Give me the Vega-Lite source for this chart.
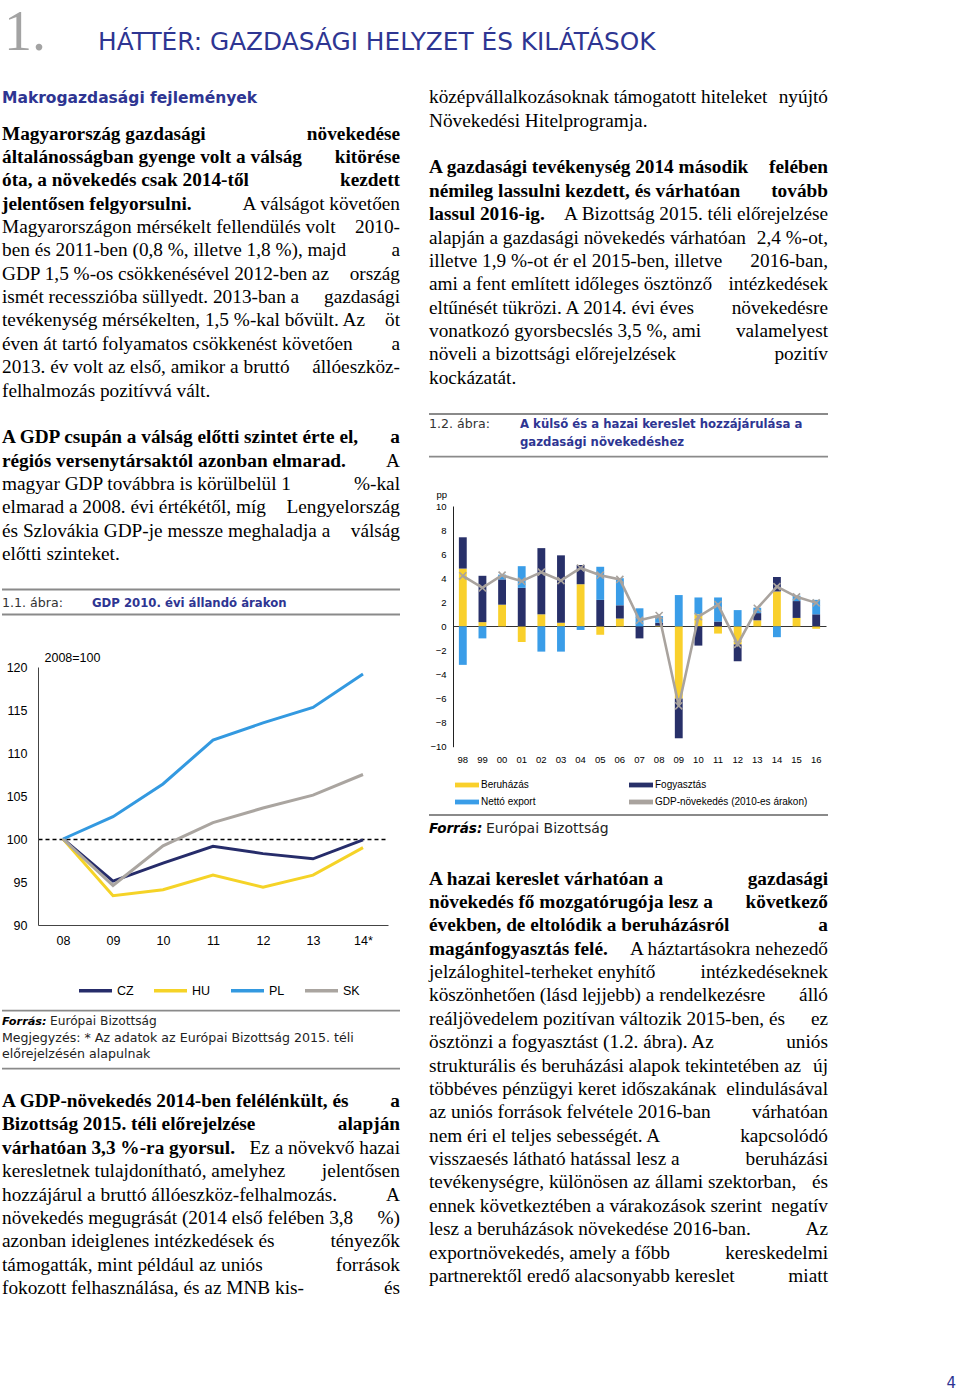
{
"$schema":"https://vega.github.io/schema/vega-lite/v6.json",
"width":960,"height":1393,"autosize":{"type":"none"},"padding":0,"background":"white",
"config":{"view":{"stroke":null},"legend":{"labelLimit":0}},
"datasets":{
"txt":[
{"c":"H","n":1,"k":"num","t":"1."},
{"c":"H","n":1,"k":"title","t":"HÁTTÉR: GAZDASÁGI HELYZET ÉS KILÁTÁSOK"},
{"c":"H","n":2,"k":"page","t":"4"},
{"c":"L","n":1,"k":"head","t":"Makrogazdasági fejlemények"},
{"c":"L","n":2,"k":"lead","t":"Magyarország gazdasági"},{"c":"L","n":2,"k":"leadR","t":"növekedése"},
{"c":"L","n":3,"k":"lead","t":"általánosságban gyenge volt a válság"},{"c":"L","n":3,"k":"leadR","t":"kitörése"},
{"c":"L","n":4,"k":"lead","t":"óta, a növekedés csak 2014-től"},{"c":"L","n":4,"k":"leadR","t":"kezdett"},
{"c":"L","n":5,"k":"lead","t":"jelentősen felgyorsulni."},{"c":"L","n":5,"k":"bodyR","t":"A válságot követően"},
{"c":"L","n":6,"k":"body","t":"Magyarországon mérsékelt fellendülés volt"},{"c":"L","n":6,"k":"bodyR","t":"2010-"},
{"c":"L","n":7,"k":"body","t":"ben és 2011-ben (0,8 %, illetve 1,8 %), majd"},{"c":"L","n":7,"k":"bodyR","t":"a"},
{"c":"L","n":8,"k":"body","t":"GDP 1,5 %-os csökkenésével 2012-ben az"},{"c":"L","n":8,"k":"bodyR","t":"ország"},
{"c":"L","n":9,"k":"body","t":"ismét recesszióba süllyedt. 2013-ban a"},{"c":"L","n":9,"k":"bodyR","t":"gazdasági"},
{"c":"L","n":10,"k":"body","t":"tevékenység mérsékelten, 1,5 %-kal bővült. Az"},{"c":"L","n":10,"k":"bodyR","t":"öt"},
{"c":"L","n":11,"k":"body","t":"éven át tartó folyamatos csökkenést követően"},{"c":"L","n":11,"k":"bodyR","t":"a"},
{"c":"L","n":12,"k":"body","t":"2013. év volt az első, amikor a bruttó"},{"c":"L","n":12,"k":"bodyR","t":"állóeszköz-"},
{"c":"L","n":13,"k":"body","t":"felhalmozás pozitívvá vált."},
{"c":"L","n":15,"k":"lead","t":"A GDP csupán a válság előtti szintet érte el,"},{"c":"L","n":15,"k":"leadR","t":"a"},
{"c":"L","n":16,"k":"lead","t":"régiós versenytársaktól azonban elmarad."},{"c":"L","n":16,"k":"bodyR","t":"A"},
{"c":"L","n":17,"k":"body","t":"magyar GDP továbbra is körülbelül 1"},{"c":"L","n":17,"k":"bodyR","t":"%-kal"},
{"c":"L","n":18,"k":"body","t":"elmarad a 2008. évi értékétől, míg"},{"c":"L","n":18,"k":"bodyR","t":"Lengyelország"},
{"c":"L","n":19,"k":"body","t":"és Szlovákia GDP-je messze meghaladja a"},{"c":"L","n":19,"k":"bodyR","t":"válság"},
{"c":"L","n":20,"k":"body","t":"előtti szinteket."},
{"c":"L","n":21,"k":"rule","t":""},
{"c":"L","n":22,"k":"cap","t":"1.1. ábra:"},{"c":"L","n":22,"k":"capt","t":"GDP 2010. évi állandó árakon"},
{"c":"L","n":23,"k":"rule","t":""},
{"c":"L","n":24,"k":"rule","t":""},
{"c":"L","n":25,"k":"src","t":"Forrás:"},{"c":"L","n":25,"k":"srct","t":"Európai Bizottság"},
{"c":"L","n":26,"k":"note","t":"Megjegyzés: * Az adatok az Európai Bizottság 2015. téli"},
{"c":"L","n":27,"k":"note","t":"előrejelzésén alapulnak"},
{"c":"L","n":28,"k":"rule","t":""},
{"c":"L","n":29,"k":"lead","t":"A GDP-növekedés 2014-ben felélénkült, és"},{"c":"L","n":29,"k":"leadR","t":"a"},
{"c":"L","n":30,"k":"lead","t":"Bizottság 2015. téli előrejelzése"},{"c":"L","n":30,"k":"leadR","t":"alapján"},
{"c":"L","n":31,"k":"lead","t":"várhatóan 3,3 %-ra gyorsul."},{"c":"L","n":31,"k":"bodyR","t":"Ez a növekvő hazai"},
{"c":"L","n":32,"k":"body","t":"keresletnek tulajdonítható, amelyhez"},{"c":"L","n":32,"k":"bodyR","t":"jelentősen"},
{"c":"L","n":33,"k":"body","t":"hozzájárul a bruttó állóeszköz-felhalmozás."},{"c":"L","n":33,"k":"bodyR","t":"A"},
{"c":"L","n":34,"k":"body","t":"növekedés megugrását (2014 első felében 3,8"},{"c":"L","n":34,"k":"bodyR","t":"%)"},
{"c":"L","n":35,"k":"body","t":"azonban ideiglenes intézkedések és"},{"c":"L","n":35,"k":"bodyR","t":"tényezők"},
{"c":"L","n":36,"k":"body","t":"támogatták, mint például az uniós"},{"c":"L","n":36,"k":"bodyR","t":"források"},
{"c":"L","n":37,"k":"body","t":"fokozott felhasználása, és az MNB kis-"},{"c":"L","n":37,"k":"bodyR","t":"és"},
{"c":"R","n":1,"k":"body","t":"középvállalkozásoknak támogatott hiteleket"},{"c":"R","n":1,"k":"bodyR","t":"nyújtó"},
{"c":"R","n":2,"k":"body","t":"Növekedési Hitelprogramja."},
{"c":"R","n":4,"k":"lead","t":"A gazdasági tevékenység 2014 második"},{"c":"R","n":4,"k":"leadR","t":"felében"},
{"c":"R","n":5,"k":"lead","t":"némileg lassulni kezdett, és várhatóan"},{"c":"R","n":5,"k":"leadR","t":"tovább"},
{"c":"R","n":6,"k":"lead","t":"lassul 2016-ig."},{"c":"R","n":6,"k":"bodyR","t":"A Bizottság 2015. téli előrejelzése"},
{"c":"R","n":7,"k":"body","t":"alapján a gazdasági növekedés várhatóan"},{"c":"R","n":7,"k":"bodyR","t":"2,4 %-ot,"},
{"c":"R","n":8,"k":"body","t":"illetve 1,9 %-ot ér el 2015-ben, illetve"},{"c":"R","n":8,"k":"bodyR","t":"2016-ban,"},
{"c":"R","n":9,"k":"body","t":"ami a fent említett időleges ösztönző"},{"c":"R","n":9,"k":"bodyR","t":"intézkedések"},
{"c":"R","n":10,"k":"body","t":"eltűnését tükrözi. A 2014. évi éves"},{"c":"R","n":10,"k":"bodyR","t":"növekedésre"},
{"c":"R","n":11,"k":"body","t":"vonatkozó gyorsbecslés 3,5 %, ami"},{"c":"R","n":11,"k":"bodyR","t":"valamelyest"},
{"c":"R","n":12,"k":"body","t":"növeli a bizottsági előrejelzések"},{"c":"R","n":12,"k":"bodyR","t":"pozitív"},
{"c":"R","n":13,"k":"body","t":"kockázatát."},
{"c":"R","n":14,"k":"rule","t":""},
{"c":"R","n":15,"k":"cap","t":"1.2. ábra:"},{"c":"R","n":15,"k":"capt","t":"A külső és a hazai kereslet hozzájárulása a"},
{"c":"R","n":16,"k":"capt","t":"gazdasági növekedéshez"},
{"c":"R","n":17,"k":"rule","t":""},
{"c":"R","n":18,"k":"rule","t":""},
{"c":"R","n":19,"k":"src","t":"Forrás:"},{"c":"R","n":19,"k":"srct","t":"Európai Bizottság"},
{"c":"R","n":20,"k":"lead","t":"A hazai kereslet várhatóan a"},{"c":"R","n":20,"k":"leadR","t":"gazdasági"},
{"c":"R","n":21,"k":"lead","t":"növekedés fő mozgatórugója lesz a"},{"c":"R","n":21,"k":"leadR","t":"következő"},
{"c":"R","n":22,"k":"lead","t":"években, de eltolódik a beruházásról"},{"c":"R","n":22,"k":"leadR","t":"a"},
{"c":"R","n":23,"k":"lead","t":"magánfogyasztás felé."},{"c":"R","n":23,"k":"bodyR","t":"A háztartásokra nehezedő"},
{"c":"R","n":24,"k":"body","t":"jelzáloghitel-terheket enyhítő"},{"c":"R","n":24,"k":"bodyR","t":"intézkedéseknek"},
{"c":"R","n":25,"k":"body","t":"köszönhetően (lásd lejjebb) a rendelkezésre"},{"c":"R","n":25,"k":"bodyR","t":"álló"},
{"c":"R","n":26,"k":"body","t":"reáljövedelem pozitívan változik 2015-ben, és"},{"c":"R","n":26,"k":"bodyR","t":"ez"},
{"c":"R","n":27,"k":"body","t":"ösztönzi a fogyasztást (1.2. ábra). Az"},{"c":"R","n":27,"k":"bodyR","t":"uniós"},
{"c":"R","n":28,"k":"body","t":"strukturális és beruházási alapok tekintetében az"},{"c":"R","n":28,"k":"bodyR","t":"új"},
{"c":"R","n":29,"k":"body","t":"többéves pénzügyi keret időszakának"},{"c":"R","n":29,"k":"bodyR","t":"elindulásával"},
{"c":"R","n":30,"k":"body","t":"az uniós források felvétele 2016-ban"},{"c":"R","n":30,"k":"bodyR","t":"várhatóan"},
{"c":"R","n":31,"k":"body","t":"nem éri el teljes sebességét. A"},{"c":"R","n":31,"k":"bodyR","t":"kapcsolódó"},
{"c":"R","n":32,"k":"body","t":"visszaesés látható hatással lesz a"},{"c":"R","n":32,"k":"bodyR","t":"beruházási"},
{"c":"R","n":33,"k":"body","t":"tevékenységre, különösen az állami szektorban,"},{"c":"R","n":33,"k":"bodyR","t":"és"},
{"c":"R","n":34,"k":"body","t":"ennek következtében a várakozások szerint"},{"c":"R","n":34,"k":"bodyR","t":"negatív"},
{"c":"R","n":35,"k":"body","t":"lesz a beruházások növekedése 2016-ban."},{"c":"R","n":35,"k":"bodyR","t":"Az"},
{"c":"R","n":36,"k":"body","t":"exportnövekedés, amely a főbb"},{"c":"R","n":36,"k":"bodyR","t":"kereskedelmi"},
{"c":"R","n":37,"k":"body","t":"partnerektől eredő alacsonyabb kereslet"},{"c":"R","n":37,"k":"bodyR","t":"miatt"}
],
"cmp":[
{"y":"08","c":"CZ","v":100},{"y":"09","c":"CZ","v":95.1},{"y":"10","c":"CZ","v":97.2},{"y":"11","c":"CZ","v":99.15},{"y":"12","c":"CZ","v":98.3},{"y":"13","c":"CZ","v":97.7},{"y":"14*","c":"CZ","v":99.9},
{"y":"08","c":"HU","v":100},{"y":"09","c":"HU","v":93.4},{"y":"10","c":"HU","v":94.1},{"y":"11","c":"HU","v":95.8},{"y":"12","c":"HU","v":94.4},{"y":"13","c":"HU","v":95.8},{"y":"14*","c":"HU","v":99.0},
{"y":"08","c":"PL","v":100},{"y":"09","c":"PL","v":102.6},{"y":"10","c":"PL","v":106.4},{"y":"11","c":"PL","v":111.5},{"y":"12","c":"PL","v":113.5},{"y":"13","c":"PL","v":115.3},{"y":"14*","c":"PL","v":119.2},
{"y":"08","c":"SK","v":100},{"y":"09","c":"SK","v":94.6},{"y":"10","c":"SK","v":99.2},{"y":"11","c":"SK","v":101.9},{"y":"12","c":"SK","v":103.6},{"y":"13","c":"SK","v":105.1},{"y":"14*","c":"SK","v":107.5}
],
"gdp":[
{"y":"98","s":"Beruházás","v":4.8},{"y":"98","s":"Fogyasztás","v":2.6},{"y":"98","s":"Nettó export","v":-3.2},{"y":"98","s":"GDP-növekedés (2010-es árakon)","v":4.2},
{"y":"99","s":"Beruházás","v":0.35},{"y":"99","s":"Fogyasztás","v":3.85},{"y":"99","s":"Nettó export","v":-1.0},{"y":"99","s":"GDP-növekedés (2010-es árakon)","v":3.2},
{"y":"00","s":"Beruházás","v":1.8},{"y":"00","s":"Fogyasztás","v":2.1},{"y":"00","s":"Nettó export","v":0.4},{"y":"00","s":"GDP-növekedés (2010-es árakon)","v":4.25},
{"y":"01","s":"Beruházás","v":-1.3},{"y":"01","s":"Fogyasztás","v":3.2},{"y":"01","s":"Nettó export","v":1.8},{"y":"01","s":"GDP-növekedés (2010-es árakon)","v":3.75},
{"y":"02","s":"Beruházás","v":1.0},{"y":"02","s":"Fogyasztás","v":5.5},{"y":"02","s":"Nettó export","v":-2.1},{"y":"02","s":"GDP-növekedés (2010-es árakon)","v":4.5},
{"y":"03","s":"Beruházás","v":0.3},{"y":"03","s":"Fogyasztás","v":5.6},{"y":"03","s":"Nettó export","v":-2.1},{"y":"03","s":"GDP-növekedés (2010-es árakon)","v":3.8},
{"y":"04","s":"Beruházás","v":3.5},{"y":"04","s":"Fogyasztás","v":1.6},{"y":"04","s":"Nettó export","v":-0.3},{"y":"04","s":"GDP-növekedés (2010-es árakon)","v":4.85},
{"y":"05","s":"Beruházás","v":-0.7},{"y":"05","s":"Fogyasztás","v":2.2},{"y":"05","s":"Nettó export","v":2.75},{"y":"05","s":"GDP-növekedés (2010-es árakon)","v":4.25},
{"y":"06","s":"Beruházás","v":0.65},{"y":"06","s":"Fogyasztás","v":1.1},{"y":"06","s":"Nettó export","v":2.25},{"y":"06","s":"GDP-növekedés (2010-es árakon)","v":3.9},
{"y":"07","s":"Beruházás","v":0.0},{"y":"07","s":"Fogyasztás","v":-1.0},{"y":"07","s":"Nettó export","v":1.5},{"y":"07","s":"GDP-növekedés (2010-es árakon)","v":0.5},
{"y":"08","s":"Beruházás","v":0.05},{"y":"08","s":"Fogyasztás","v":0.25},{"y":"08","s":"Nettó export","v":0.55},{"y":"08","s":"GDP-növekedés (2010-es árakon)","v":0.9},
{"y":"09","s":"Beruházás","v":-6.0},{"y":"09","s":"Fogyasztás","v":-3.3},{"y":"09","s":"Nettó export","v":2.6},{"y":"09","s":"GDP-növekedés (2010-es árakon)","v":-6.6},
{"y":"10","s":"Beruházás","v":1.0},{"y":"10","s":"Fogyasztás","v":-1.6},{"y":"10","s":"Nettó export","v":1.4},{"y":"10","s":"GDP-növekedés (2010-es árakon)","v":0.8},
{"y":"11","s":"Beruházás","v":-0.6},{"y":"11","s":"Fogyasztás","v":0.4},{"y":"11","s":"Nettó export","v":2.0},{"y":"11","s":"GDP-növekedés (2010-es árakon)","v":1.8},
{"y":"12","s":"Beruházás","v":-1.5},{"y":"12","s":"Fogyasztás","v":-1.4},{"y":"12","s":"Nettó export","v":1.35},{"y":"12","s":"GDP-növekedés (2010-es árakon)","v":-1.5},
{"y":"13","s":"Beruházás","v":0.5},{"y":"13","s":"Fogyasztás","v":0.6},{"y":"13","s":"Nettó export","v":0.45},{"y":"13","s":"GDP-növekedés (2010-es árakon)","v":1.5},
{"y":"14","s":"Beruházás","v":2.9},{"y":"14","s":"Fogyasztás","v":1.2},{"y":"14","s":"Nettó export","v":-0.9},{"y":"14","s":"GDP-növekedés (2010-es árakon)","v":3.3},
{"y":"15","s":"Beruházás","v":0.7},{"y":"15","s":"Fogyasztás","v":1.4},{"y":"15","s":"Nettó export","v":0.45},{"y":"15","s":"GDP-növekedés (2010-es árakon)","v":2.45},
{"y":"16","s":"Beruházás","v":-0.2},{"y":"16","s":"Fogyasztás","v":1.0},{"y":"16","s":"Nettó export","v":1.2},{"y":"16","s":"GDP-növekedés (2010-es árakon)","v":1.95}
]
},
"layer":[
{
"data":{"name":"txt"},
"transform":[{"filter":"datum.c === 'H'"}],
"encoding":{"y":{"field":"n","type":"quantitative","scale":{"domain":[1,2],"range":[50,1388],"zero":false,"nice":false},"axis":null},"text":{"field":"t"}},
"layer":[
{"transform":[{"filter":"datum.k === 'num'"}],"mark":{"type":"text","align":"left","baseline":"alphabetic","font":"Liberation Serif","fontSize":56,"color":"#a3a3a3"},
 "encoding":{"x":{"datum":0,"type":"quantitative","scale":{"domain":[0,1,2],"range":[4,98,956]},"axis":null}}},
{"transform":[{"filter":"datum.k === 'title'"}],"mark":{"type":"text","align":"left","baseline":"alphabetic","font":"DejaVu Sans","fontSize":24.8,"color":"#2e3592"},
 "encoding":{"x":{"datum":1,"type":"quantitative","scale":{"domain":[0,1,2],"range":[4,98,956]},"axis":null}}},
{"transform":[{"filter":"datum.k === 'page'"}],"mark":{"type":"text","align":"right","baseline":"alphabetic","font":"DejaVu Sans","fontSize":15,"color":"#2e3592"},
 "encoding":{"x":{"datum":2,"type":"quantitative","scale":{"domain":[0,1,2],"range":[4,98,956]},"axis":null}}}
]
},
{
"data":{"name":"txt"},
"transform":[{"filter":"datum.c === 'L'"}],
"encoding":{"y":{"field":"n","type":"quantitative","scale":{"domain":[1,2,20,21,22,23,24,25,27,28,29,37],"range":[102.5,139.5,560.2,589.5,606.7,614.5,1010.7,1025,1058.4,1068.7,1107,1294],"zero":false,"nice":false},"axis":null},"text":{"field":"t"}},
"layer":[
{"transform":[{"filter":"datum.k === 'head'"}],"mark":{"type":"text","align":"left","baseline":"alphabetic","font":"DejaVu Sans","fontWeight":"bold","fontSize":15.5,"color":"#2e3592"},
 "encoding":{"x":{"datum":0,"type":"quantitative","scale":{"domain":[0,1],"range":[2,400]},"axis":null}}},
{"transform":[{"filter":"datum.k === 'lead'"}],"mark":{"type":"text","align":"left","baseline":"alphabetic","font":"Liberation Serif","fontWeight":"bold","fontSize":19.3,"color":"#000"},
 "encoding":{"x":{"datum":0,"type":"quantitative","scale":{"domain":[0,1],"range":[2,400]},"axis":null}}},
{"transform":[{"filter":"datum.k === 'leadR'"}],"mark":{"type":"text","align":"right","baseline":"alphabetic","font":"Liberation Serif","fontWeight":"bold","fontSize":19.3,"color":"#000"},
 "encoding":{"x":{"datum":1,"type":"quantitative","scale":{"domain":[0,1],"range":[2,400]},"axis":null}}},
{"transform":[{"filter":"datum.k === 'body'"}],"mark":{"type":"text","align":"left","baseline":"alphabetic","font":"Liberation Serif","fontSize":19.3,"color":"#000"},
 "encoding":{"x":{"datum":0,"type":"quantitative","scale":{"domain":[0,1],"range":[2,400]},"axis":null}}},
{"transform":[{"filter":"datum.k === 'bodyR'"}],"mark":{"type":"text","align":"right","baseline":"alphabetic","font":"Liberation Serif","fontSize":19.3,"color":"#000"},
 "encoding":{"x":{"datum":1,"type":"quantitative","scale":{"domain":[0,1],"range":[2,400]},"axis":null}}},
{"transform":[{"filter":"datum.k === 'cap'"}],"mark":{"type":"text","align":"left","baseline":"alphabetic","font":"DejaVu Sans","fontSize":12.6,"color":"#333"},
 "encoding":{"x":{"datum":0,"type":"quantitative","scale":{"domain":[0,1],"range":[2,400]},"axis":null}}},
{"transform":[{"filter":"datum.k === 'capt'"}],"mark":{"type":"text","align":"left","baseline":"alphabetic","dx":90,"font":"DejaVu Sans","fontWeight":"bold","fontSize":11.7,"color":"#2e3592"},
 "encoding":{"x":{"datum":0,"type":"quantitative","scale":{"domain":[0,1],"range":[2,400]},"axis":null}}},
{"transform":[{"filter":"datum.k === 'src'"}],"mark":{"type":"text","align":"left","baseline":"alphabetic","font":"DejaVu Sans","fontWeight":"bold","fontStyle":"italic","fontSize":11.3,"color":"#000"},
 "encoding":{"x":{"datum":0,"type":"quantitative","scale":{"domain":[0,1],"range":[2,400]},"axis":null}}},
{"transform":[{"filter":"datum.k === 'srct'"}],"mark":{"type":"text","align":"left","baseline":"alphabetic","dx":48,"font":"DejaVu Sans","fontSize":12.2,"color":"#222"},
 "encoding":{"x":{"datum":0,"type":"quantitative","scale":{"domain":[0,1],"range":[2,400]},"axis":null}}},
{"transform":[{"filter":"datum.k === 'note'"}],"mark":{"type":"text","align":"left","baseline":"alphabetic","font":"DejaVu Sans","fontSize":12.6,"color":"#222"},
 "encoding":{"x":{"datum":0,"type":"quantitative","scale":{"domain":[0,1],"range":[2,400]},"axis":null}}},
{"transform":[{"filter":"datum.k === 'rule'"}],"mark":{"type":"rule","color":"#8a8a8a","strokeWidth":1.8},
 "encoding":{"x":{"datum":0,"type":"quantitative","scale":{"domain":[0,1],"range":[1,398]},"axis":null},"x2":{"datum":1}}}
]
},
{
"data":{"name":"txt"},
"transform":[{"filter":"datum.c === 'R'"}],
"encoding":{"y":{"field":"n","type":"quantitative","scale":{"domain":[1,13,14,15,16,17,18,19,20,37],"range":[103.3,383.7,414,428.3,446,456.7,815,833.3,884.6,1281.9],"zero":false,"nice":false},"axis":null},"text":{"field":"t"}},
"layer":[
{"transform":[{"filter":"datum.k === 'lead'"}],"mark":{"type":"text","align":"left","baseline":"alphabetic","font":"Liberation Serif","fontWeight":"bold","fontSize":19.3,"color":"#000"},
 "encoding":{"x":{"datum":0,"type":"quantitative","scale":{"domain":[0,1],"range":[429,828]},"axis":null}}},
{"transform":[{"filter":"datum.k === 'leadR'"}],"mark":{"type":"text","align":"right","baseline":"alphabetic","font":"Liberation Serif","fontWeight":"bold","fontSize":19.3,"color":"#000"},
 "encoding":{"x":{"datum":1,"type":"quantitative","scale":{"domain":[0,1],"range":[429,828]},"axis":null}}},
{"transform":[{"filter":"datum.k === 'body'"}],"mark":{"type":"text","align":"left","baseline":"alphabetic","font":"Liberation Serif","fontSize":19.3,"color":"#000"},
 "encoding":{"x":{"datum":0,"type":"quantitative","scale":{"domain":[0,1],"range":[429,828]},"axis":null}}},
{"transform":[{"filter":"datum.k === 'bodyR'"}],"mark":{"type":"text","align":"right","baseline":"alphabetic","font":"Liberation Serif","fontSize":19.3,"color":"#000"},
 "encoding":{"x":{"datum":1,"type":"quantitative","scale":{"domain":[0,1],"range":[429,828]},"axis":null}}},
{"transform":[{"filter":"datum.k === 'cap'"}],"mark":{"type":"text","align":"left","baseline":"alphabetic","font":"DejaVu Sans","fontSize":12.6,"color":"#333"},
 "encoding":{"x":{"datum":0,"type":"quantitative","scale":{"domain":[0,1],"range":[429,828]},"axis":null}}},
{"transform":[{"filter":"datum.k === 'capt'"}],"mark":{"type":"text","align":"left","baseline":"alphabetic","dx":91,"font":"DejaVu Sans","fontWeight":"bold","fontSize":11.7,"color":"#2e3592"},
 "encoding":{"x":{"datum":0,"type":"quantitative","scale":{"domain":[0,1],"range":[429,828]},"axis":null}}},
{"transform":[{"filter":"datum.k === 'src'"}],"mark":{"type":"text","align":"left","baseline":"alphabetic","font":"DejaVu Sans","fontWeight":"bold","fontStyle":"italic","fontSize":13.5,"color":"#000"},
 "encoding":{"x":{"datum":0,"type":"quantitative","scale":{"domain":[0,1],"range":[429,828]},"axis":null}}},
{"transform":[{"filter":"datum.k === 'srct'"}],"mark":{"type":"text","align":"left","baseline":"alphabetic","dx":57,"font":"DejaVu Sans","fontSize":14,"color":"#222"},
 "encoding":{"x":{"datum":0,"type":"quantitative","scale":{"domain":[0,1],"range":[429,828]},"axis":null}}},
{"transform":[{"filter":"datum.k === 'rule'"}],"mark":{"type":"rule","color":"#8a8a8a","strokeWidth":1.8},
 "encoding":{"x":{"datum":0,"type":"quantitative","scale":{"domain":[0,1],"range":[428,826]},"axis":null},"x2":{"datum":1}}}
]
},
{
"data":{"name":"cmp"},
"mark":{"type":"line","strokeWidth":3},
"encoding":{
"x":{"field":"y","type":"ordinal","scale":{"type":"point","domain":["08","09","10","11","12","13","14*"],"range":[38,388],"padding":0.5},
 "axis":{"orient":"bottom","offset":-468,"ticks":false,"domain":true,"domainColor":"#444","domainWidth":1,"labelFont":"Liberation Sans","labelFontSize":12.5,"labelColor":"#000","labelPadding":9,"labelAngle":0,"title":null,"grid":false}},
"y":{"field":"v","type":"quantitative","scale":{"domain":[90,120],"range":[925,667],"zero":false,"nice":false},
 "axis":{"orient":"left","offset":-38,"values":[90,95,100,105,110,115,120],"ticks":false,"domain":true,"domainColor":"#444","domainWidth":1,"labelFont":"Liberation Sans","labelFontSize":12.5,"labelColor":"#000","labelPadding":11,
  "title":"2008=100","titleAngle":0,"titleAlign":"left","titleBaseline":"alphabetic","titleX":6,"titleY":661,"titleFont":"Liberation Sans","titleFontSize":12.5,"titleFontWeight":"normal","titleColor":"#000",
  "grid":true,"gridColor":"#000","gridDash":[4,3],"gridWidth":1.6,"gridOpacity":{"condition":{"test":"datum.value === 100","value":1},"value":0}}},
"color":{"field":"c","type":"nominal","scale":{"domain":["CZ","HU","PL","SK"],"range":["#262c6a","#f5d327","#3399e0","#aaa5a0"]},
 "legend":{"orient":"none","legendX":77,"legendY":972,"direction":"horizontal","title":null,"symbolType":"stroke","symbolSize":1089,"symbolStrokeWidth":3.5,"labelOffset":3,"columnPadding":13,"labelFont":"Liberation Sans","labelFontSize":12.5,"labelColor":"#000"}}
}
},
{
"data":{"name":"gdp"},
"encoding":{
"x":{"field":"y","type":"ordinal","scale":{"type":"band","domain":["98","99","00","01","02","03","04","05","06","07","08","09","10","11","12","13","14","15","16"],"range":[453,826],"paddingInner":0.6,"paddingOuter":0.3},
 "axis":{"orient":"bottom","offset":-646.3,"ticks":false,"domain":false,"labelFont":"Liberation Sans","labelFontSize":9.5,"labelColor":"#000","labelPadding":8,"labelAngle":0,"title":null,"grid":false}},
"y":{"field":"v","type":"quantitative","scale":{"domain":[-10,10],"range":[746.7,506],"zero":false,"nice":false},
 "axis":{"orient":"left","offset":-453,"values":[-10,-8,-6,-4,-2,0,2,4,6,8,10],"format":"d","ticks":false,"domain":true,"domainColor":"#222","domainWidth":1,"labelFont":"Liberation Sans","labelFontSize":9.5,"labelColor":"#000","labelPadding":7,
  "title":"pp","titleAngle":0,"titleAlign":"left","titleBaseline":"alphabetic","titleX":-17,"titleY":497,"titleFont":"Liberation Sans","titleFontSize":9.5,"titleFontWeight":"normal","titleColor":"#000",
  "grid":true,"gridColor":"#333","gridWidth":1,"gridOpacity":{"condition":{"test":"datum.value === 0","value":1},"value":0}}}
},
"layer":[
{"transform":[{"filter":"datum.s !== 'GDP-növekedés (2010-es árakon)'"}],
 "mark":{"type":"bar"},
 "encoding":{
  "color":{"field":"s","type":"nominal","scale":{"domain":["Beruházás","Fogyasztás","Nettó export","GDP-növekedés (2010-es árakon)"],"range":["#f9d02c","#283069","#3a9de8","#a9a39e"]},
   "legend":{"orient":"none","legendX":455,"legendY":779,"direction":"horizontal","columns":2,"title":null,"symbolType":"M-1,-0.4H3V0.4H-1Z","symbolSize":144,"symbolStrokeWidth":0,"labelOffset":14,"columnPadding":93,"rowPadding":6,"labelFont":"Liberation Sans","labelFontSize":10,"labelColor":"#000"}},
  "order":{"field":"s","sort":"ascending"}
 }},
{"transform":[{"filter":"datum.s === 'GDP-növekedés (2010-es árakon)'"}],
 "mark":{"type":"line","color":"#a9a39e","strokeWidth":2.6}},
{"transform":[{"filter":"datum.s === 'GDP-növekedés (2010-es árakon)'"}],
 "mark":{"type":"point","shape":"M-1,-1L1,1M-1,1L1,-1","filled":false,"color":"#a9a39e","strokeWidth":1.6,"size":50,"opacity":1}}
]
}
],
"resolve":{"scale":{"x":"independent","y":"independent","color":"independent"},"axis":{"x":"independent","y":"independent"},"legend":{"color":"independent"}}
}
